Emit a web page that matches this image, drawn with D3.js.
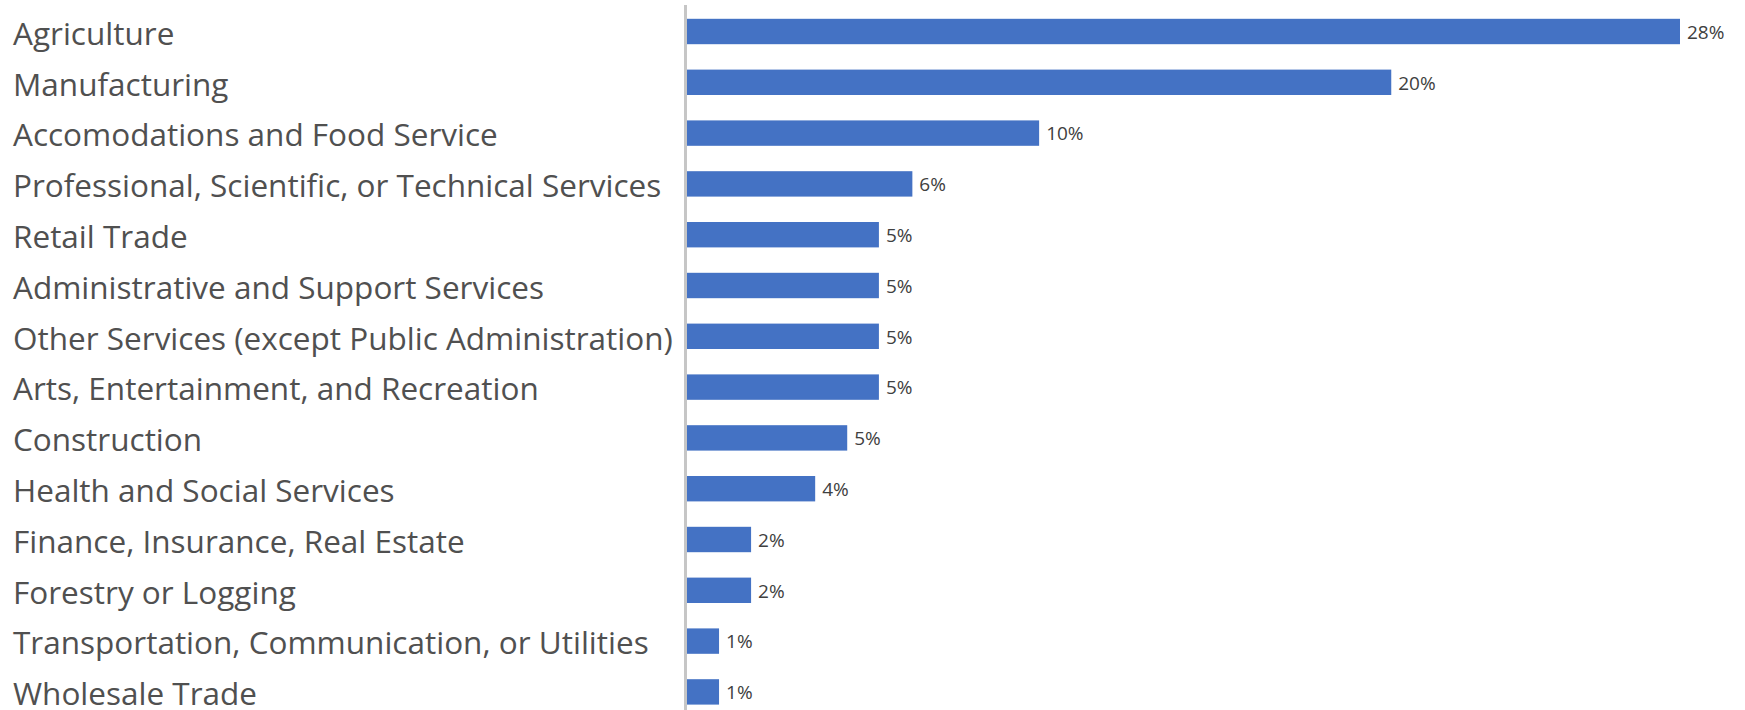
<!DOCTYPE html>
<html>
<head>
<meta charset="utf-8">
<script src="https://cdn.jsdelivr.net/npm/d3@7"></script>
<style>
  html, body { margin: 0; padding: 0; background: #ffffff; }
  svg { display: block; }
</style>
</head>
<body>
<svg id="chart" width="1745" height="710"></svg>
<script>
// Industry categories, top to bottom
const categories = [
  "Agriculture",
  "Manufacturing",
  "Accomodations and Food Service",
  "Professional, Scientific, or Technical Services",
  "Retail Trade",
  "Administrative and Support Services",
  "Other Services (except Public Administration)",
  "Arts, Entertainment, and Recreation",
  "Construction",
  "Health and Social Services",
  "Finance, Insurance, Real Estate",
  "Forestry or Logging",
  "Transportation, Communication, or Utilities",
  "Wholesale Trade"
];

// Share of businesses in each industry, percent
const shares = [28.2, 20.0, 10.0, 6.4, 5.45, 5.45, 5.45, 5.45, 4.55, 3.64, 1.82, 1.82, 0.91, 0.91];

const data = categories.map((c, i) => ({ category: c, share: shares[i] }));

const svg = d3.select("#chart");

const axisX = 687;
const x = d3.scaleLinear()
  .domain([0, 28.2])
  .range([axisX, 1680]);

const y = d3.scaleBand()
  .domain(categories)
  .range([6.1, 717.3])
  .paddingInner(0.5)
  .paddingOuter(0.25);

// Category labels on the left
svg.append("g")
  .selectAll("text")
  .data(data)
  .join("text")
  .attr("x", 13)
  .attr("y", d => y(d.category) + y.bandwidth() / 2)
  .attr("dy", "0.42em")
  .attr("font-family", "'Open Sans', sans-serif")
  .attr("font-size", 31.5)
  .attr("fill", "#505050")
  .text(d => d.category);

// Bars
svg.append("g")
  .selectAll("rect")
  .data(data)
  .join("rect")
  .attr("x", x(0))
  .attr("y", d => y(d.category))
  .attr("width", d => x(d.share) - x(0))
  .attr("height", y.bandwidth())
  .attr("fill", "#4472c4");

// Value labels at the end of each bar
const fmt = v => Math.round(v) + "%";
svg.append("g")
  .selectAll("text")
  .data(data)
  .join("text")
  .attr("x", d => x(d.share) + 7)
  .attr("y", d => y(d.category) + y.bandwidth() / 2)
  .attr("dy", "0.38em")
  .attr("font-family", "'Open Sans', sans-serif")
  .attr("font-size", 19)
  .attr("fill", "#404040")
  .text(d => fmt(d.share));

// Vertical category axis line
svg.append("line")
  .attr("x1", axisX - 1.5)
  .attr("x2", axisX - 1.5)
  .attr("y1", 5)
  .attr("y2", 710)
  .attr("stroke", "#c6c6c6")
  .attr("stroke-width", 3);
</script>
</body>
</html>
